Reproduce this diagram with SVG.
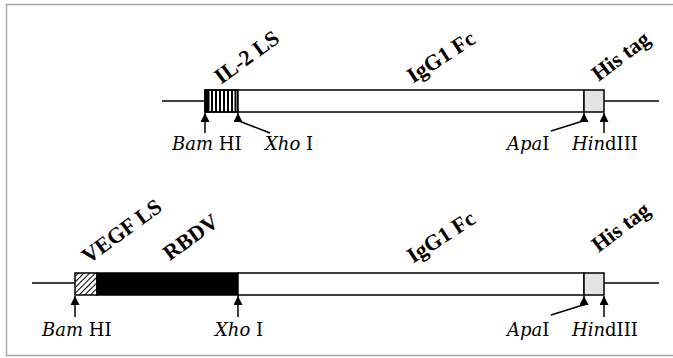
<svg xmlns="http://www.w3.org/2000/svg" width="673" height="358" viewBox="0 0 673 358">
  <style>
    .frame { fill: #ffffff; stroke: #a6a6a6; stroke-width: 1.5; }
    .dna { stroke: #000; stroke-width: 1.5; fill: none; }
    .box { stroke: #000; stroke-width: 1.5; fill: #ffffff; }
    .his { stroke: #000; stroke-width: 1.5; fill: #e3e3e3; }
    .solid { stroke: #000; stroke-width: 1.5; fill: #000; }
    .hatch { stroke: #000; stroke-width: 1.5; fill: url(#diag); }
    .site { font-family: "DejaVu Serif", "Liberation Serif", serif; font-size: 18px; fill: #000; }
    .site .it { font-style: italic; }
    .title { font-family: "Liberation Serif", "Times New Roman", serif; font-weight: bold; font-size: 22px; fill: #000; text-anchor: middle; }
    .conn line, .conn polyline { stroke: #000; stroke-width: 1.5; fill: none; }
  </style>
  <defs>
    <pattern id="diag" patternUnits="userSpaceOnUse" width="4" height="4" patternTransform="rotate(45)">
      <rect width="4" height="4" fill="#fff"/>
      <line x1="0" y1="0" x2="0" y2="4" stroke="#000" stroke-width="2"/>
    </pattern>
    <marker id="tip" viewBox="0 0 10 10" refX="10" refY="5" markerWidth="9" markerHeight="9" markerUnits="userSpaceOnUse" orient="auto">
      <path d="M0,0 L10,5 L0,10 Z" fill="#000"/>
    </marker>
  </defs>

  <rect class="frame" x="6.5" y="4.5" width="668" height="351"/>

  <!-- construct 1: IL-2 leader + IgG1 Fc + His tag -->
  <g id="construct1-backbone">
    <line class="dna" x1="162" y1="101" x2="205" y2="101"/>
    <line class="dna" x1="604" y1="101" x2="659" y2="101"/>
  </g>
  <g id="il2-ls">
    <rect class="box" x="205" y="90" width="33" height="22"/>
    <rect x="205" y="90" width="4.5" height="22" fill="#000"/>
    <g stroke="#000" stroke-width="2">
      <line x1="212" y1="90" x2="212" y2="112"/>
      <line x1="216" y1="90" x2="216" y2="112"/>
      <line x1="220" y1="90" x2="220" y2="112"/>
      <line x1="224" y1="90" x2="224" y2="112"/>
      <line x1="228" y1="90" x2="228" y2="112"/>
      <line x1="232" y1="90" x2="232" y2="112"/>
      <line x1="235.5" y1="90" x2="235.5" y2="112"/>
    </g>
    <rect class="dna" x="205" y="90" width="33" height="22"/>
    <text class="title" transform="translate(251 63) rotate(-36)">IL-2 LS</text>
  </g>
  <g id="igg1-fc-1">
    <rect class="box" x="238" y="90" width="346" height="22"/>
    <text class="title" transform="translate(445 63) rotate(-33)">IgG1 Fc</text>
  </g>
  <g id="his-tag-1">
    <rect class="his" x="584" y="90" width="20" height="22"/>
    <text class="title" transform="translate(625 62) rotate(-37)">His tag</text>
  </g>

  <!-- construct 2: VEGF leader + RBDV + IgG1 Fc + His tag -->
  <g id="construct2-backbone">
    <line class="dna" x1="32" y1="283" x2="75" y2="283"/>
    <line class="dna" x1="604" y1="283" x2="659" y2="283"/>
  </g>
  <g id="vegf-ls">
    <rect class="hatch" x="75" y="273" width="22" height="22"/>
    <text class="title" transform="translate(126 237) rotate(-36)">VEGF LS</text>
  </g>
  <g id="rbdv">
    <rect class="solid" x="97" y="273" width="141" height="22"/>
    <text class="title" transform="translate(195 243) rotate(-36)">RBDV</text>
  </g>
  <g id="igg1-fc-2">
    <rect class="box" x="238" y="273" width="346" height="22"/>
    <text class="title" transform="translate(445 243) rotate(-33)">IgG1 Fc</text>
  </g>
  <g id="his-tag-2">
    <rect class="his" x="584" y="273" width="20" height="22"/>
    <text class="title" transform="translate(625 233) rotate(-37)">His tag</text>
  </g>

  <!-- restriction site pointers -->
  <g id="connectors" class="conn">
    <line x1="205" y1="133" x2="205" y2="113" marker-end="url(#tip)"/>
    <polyline points="270,133 239,121"/>
    <line x1="238" y1="122" x2="238" y2="113" marker-end="url(#tip)"/>
    <polyline points="551,131 583,121"/>
    <line x1="584" y1="122" x2="584" y2="113" marker-end="url(#tip)"/>
    <line x1="604" y1="133" x2="604" y2="113" marker-end="url(#tip)"/>

    <line x1="75" y1="317" x2="75" y2="296" marker-end="url(#tip)"/>
    <line x1="238" y1="317" x2="238" y2="296" marker-end="url(#tip)"/>
    <polyline points="551,315 583,305"/>
    <line x1="584" y1="306" x2="584" y2="296" marker-end="url(#tip)"/>
    <line x1="604" y1="317" x2="604" y2="296" marker-end="url(#tip)"/>
  </g>

  <!-- site labels -->
  <g id="sites1" class="site">
    <text x="172" y="150"><tspan class="it">Bam</tspan> HI</text>
    <text x="265" y="150"><tspan class="it">Xho</tspan> I</text>
    <text x="507" y="150"><tspan class="it">Apa</tspan>I</text>
    <text x="572" y="150"><tspan class="it">Hin</tspan>dIII</text>
  </g>
  <g id="sites2" class="site">
    <text x="42" y="336"><tspan class="it">Bam</tspan> HI</text>
    <text x="215" y="336"><tspan class="it">Xho</tspan> I</text>
    <text x="507" y="336"><tspan class="it">Apa</tspan>I</text>
    <text x="572" y="336"><tspan class="it">Hin</tspan>dIII</text>
  </g>
</svg>
